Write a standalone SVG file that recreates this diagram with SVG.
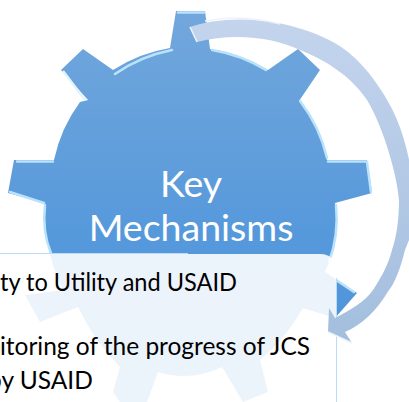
<svg xmlns="http://www.w3.org/2000/svg" width="409" height="402" viewBox="0 0 409 402">
<style>
.hl{fill:none;stroke:#b9e2fb;stroke-width:2.5;stroke-linecap:round}
.hw{fill:none;stroke:#e4f4fe;stroke-width:2.5}
.t{font-family:Lato,"Liberation Sans",sans-serif;fill:#000;font-size:24.500px}
.k{font-family:Lato,"Liberation Sans",sans-serif;fill:#fff;font-size:37.500px;text-anchor:middle}
</style>
<defs>
<linearGradient id="g" x1="0" y1="11" x2="0" y2="402" gradientUnits="userSpaceOnUse"><stop offset="0" stop-color="#72a7dc"/><stop offset="0.6" stop-color="#5598db"/><stop offset="1" stop-color="#4a90d8"/></linearGradient>
<linearGradient id="b" x1="0" y1="18" x2="0" y2="343" gradientUnits="userSpaceOnUse"><stop offset="0" stop-color="#c4d4ed"/><stop offset="1" stop-color="#a3bede"/></linearGradient>
<filter id="s" x="-5%" y="-5%" width="110%" height="110%"><feGaussianBlur stdDeviation="0.4"/></filter>
</defs>
<rect width="409" height="402" fill="#fff"/>
<g id="gear" filter="url(#s)">
<path fill="url(#g)" d="M176,11L205,11L210,49A150,150 0 0 1 268,70L298,49L320,70L299,101A150,150 0 0 1 327,160L367,160L372,193L335,203Q342,235 325,272L357,293L335,318L303,308Q285,340 260,360L268,392L243,402L222,367Q190,382 158,372L147,402L120,402L113,392L120,367Q95,342 78,307L40,322L25,295L63,290Q42,245 45,203L8,193L14,160L54,160A150,150 0 0 1 80,102L88,100L61,70L83,49L113,70A150,150 0 0 1 170,48Z"/>
<path class="hl" d="M178,12.500L204,12.500M115,74A150,150 0 0 1 172,50M212,50A150,150 0 0 1 266,70M300,101A150,150 0 0 1 327,158M17,161.500L53,161.500M10,192L44,203M45,205Q42,232 51,253M336,205Q339,235 329,262M328,161.500L366,161.500M367,162L371,192M336,280L354,292"/>
<path class="hw" d="M63,71L85,100"/>
</g>
<g id="card">
<path fill="#fff" fill-opacity=".89" d="M-5,254H320Q336,254 336,272V402H-5Z"/>
<path fill="none" stroke="#bcdcf5" stroke-width="1" d="M-5,253.500H188M336.500,278V402"/>
<text class="t" x="0" y="291" textLength="237" lengthAdjust="spacingAndGlyphs">ty to Utility and USAID</text>
<text class="t" x="0" y="355" textLength="310" lengthAdjust="spacingAndGlyphs">itoring of the progress of JCS</text>
<text class="t" x="-12" y="389">by USAID</text>
</g>
<g id="connectors" filter="url(#s)">
<path id="arrow" fill="url(#b)" d="M190,27C220,16 280,14 333,42C356,54 372,76 383,93C397,115 406,140 411,170L411,235L405,250C400,270 395,283 387,293C377,310 362,325 345,332L352,343L328,332L329,308L335,318C350,310 365,302 373,290C383,275 389,262 392,250C397,235 399,218 399,201C398,180 385,130 367,100C350,75 325,60 300,50C275,38 235,32 197,42Z"/>
<path fill="none" stroke="#eef3fb" stroke-width="1.500" d="M190,27L197,42M205,21Q240,14 280,24M328,332L352,343"/>
</g>
<g id="title">
<text class="k" x="191" y="197">Key</text>
<text class="k" x="191" y="241">Mechanisms</text>
</g>
</svg>
